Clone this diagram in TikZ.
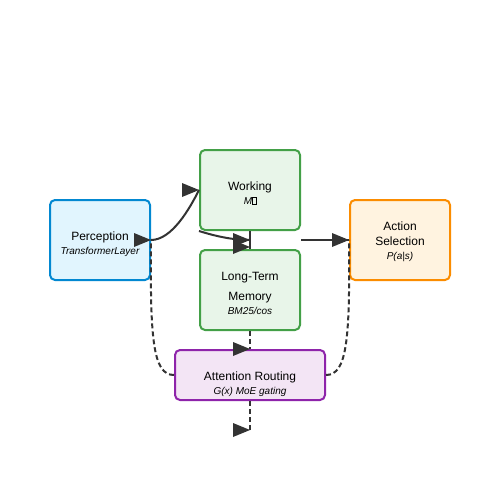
\documentclass[tikz,border=0pt]{standalone}
\usepackage{fontspec}
\setmainfont{Liberation Sans}
\usetikzlibrary{calc}
\definecolor{linec}{HTML}{333333}
\definecolor{perF}{HTML}{E1F5FE}\definecolor{perD}{HTML}{0288D1}
\definecolor{memF}{HTML}{E8F5E9}\definecolor{memD}{HTML}{43A047}
\definecolor{actF}{HTML}{FFF3E0}\definecolor{actD}{HTML}{FB8C00}
\definecolor{attF}{HTML}{F3E5F5}\definecolor{attD}{HTML}{8E24AA}
\tikzset{
  boxnode/.style={draw, rectangle, rounded corners=5pt, line width=2pt, inner sep=0pt},
  maintext/.style={anchor=base, inner sep=0pt, font=\fontsize{12}{14}\selectfont, text=black},
  subtext/.style={anchor=base, inner sep=0pt, font=\fontsize{10}{12}\selectfont\itshape, text=black},
  conn/.style={draw=linec, line width=2pt},
  dconn/.style={draw=linec, line width=2pt, dash pattern=on 5pt off 3pt},
  tipR/.pic={\fill[linec] (0,0) -- (-17,-7) -- (-17,7) -- cycle;}
}
\newcommand{\tofubox}{\raisebox{0pt}{\setlength{\fboxsep}{0pt}\setlength{\fboxrule}{0.4pt}\fbox{\rule{0pt}{7pt}\hspace{3pt}}}}
\begin{document}
\begin{tikzpicture}[x=1pt,y=-1pt]
\useasboundingbox[fill=white] (0,0) rectangle (500,500);
% boxes
\node[boxnode, fill=perF, draw=perD, minimum width=100pt, minimum height=80pt] (per) at (100,240) {};
\node[boxnode, fill=memF, draw=memD, minimum width=100pt, minimum height=80pt] (wm) at (250,190) {};
\node[boxnode, fill=memF, draw=memD, minimum width=100pt, minimum height=80pt] (ltm) at (250,290) {};
\node[boxnode, fill=actF, draw=actD, minimum width=100pt, minimum height=80pt] (act) at (400,240) {};
\node[boxnode, fill=attF, draw=attD, minimum width=150pt, minimum height=50pt] (att) at (250,375) {};
% texts
\node[maintext] (perT) at (100,240.5) {Perception};
\node[subtext] (perS) at (100,254.3) {TransformerLayer};
\node[maintext] (wmT) at (250,190.3) {Working};
\node[subtext] (wmS) at (250,204.3) {M\tofubox};
\node[maintext] (ltmT) at (250,280.3) {Long-Term};
\node[maintext] (ltmT2) at (250,300.3) {Memory};
\node[subtext] (ltmS) at (250,314.8) {BM25/cos};
\node[maintext] (actT) at (400,230.5) {Action};
\node[maintext] (actT2) at (400,245.5) {Selection};
\node[subtext] (actS) at (400,259.5) {P(a|s)};
\node[maintext] (attT) at (250,380) {Attention Routing};
\node[subtext] (attS) at (250,394.3) {G(x) MoE gating};
% helper coordinates
\coordinate (mid) at ($(wm.south)!0.5!(ltm.north)$);
\coordinate (midE) at ($(wm.south east)!0.5!(ltm.north east)$);
\coordinate (out) at (250,430);
% connectors
\draw[conn] (per.east) .. controls (172,240) and (190,208) .. (wm.west);
\draw[conn] (wm.south west) .. controls (215,236) and (232,240) .. (mid);
\draw[conn] (wm.south) -- (ltm.north);
\draw[conn] (midE) -- (act.west);
\draw[dconn] (ltm.south) -- (att.north);
\draw[dconn] (att.south) -- (out);
\draw[dconn] (att.west) .. controls (153,375) and (150,340) .. (per.east);
\draw[dconn] (att.east) .. controls (347,375) and (350,340) .. (act.west);
% arrowheads (all point right, as in the reference)
\pic at (wm.west) {tipR};
\pic at (mid) {tipR};
\pic at ([yshift=2pt]ltm.north) {tipR};
\pic at (act.west) {tipR};
\pic at (per.east) {tipR};
\pic at (att.north) {tipR};
\pic at (out) {tipR};
\end{tikzpicture}
\end{document}
